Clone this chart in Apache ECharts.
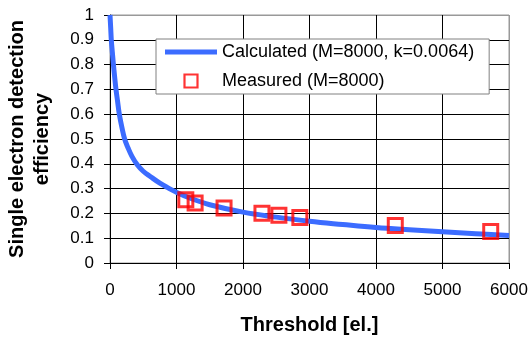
<!DOCTYPE html>
<html>
<head>
<meta charset="utf-8">
<script src="https://cdn.jsdelivr.net/npm/echarts@6/dist/echarts.min.js"></script>
<style>
  html, body { margin: 0; padding: 0; background: #fff; }
  #chart { width: 530px; height: 340px; }
</style>
</head>
<body>
<div id="chart"></div>
<script>
// calculated curve
const calcThreshold = [0, 10, 20, 35, 50, 70, 90, 115, 140, 180, 220, 270, 330, 410, 500, 610, 750, 880, 1000, 1200, 1500, 2000, 2500, 3000, 3500, 4000, 4500, 5000, 5500, 6000]
const calcEff = [1.0, 0.95, 0.898, 0.85, 0.805, 0.75, 0.70, 0.65, 0.60, 0.545, 0.50, 0.465, 0.43, 0.396, 0.37, 0.348, 0.322, 0.302, 0.285, 0.262, 0.235, 0.205, 0.185, 0.168, 0.155, 0.143, 0.134, 0.126, 0.118, 0.111]

// measured points
const measThreshold = [1140, 1280, 1715, 2285, 2540, 2855, 4290, 5725]
const measEff = [0.255, 0.242, 0.222, 0.201, 0.193, 0.183, 0.151, 0.127]

const xTicks = [0, 1000, 2000, 3000, 4000, 5000, 6000]
const yTicks = [0, 0.1, 0.2, 0.3, 0.4, 0.5, 0.6, 0.7, 0.8, 0.9, 1]

const font = 'Liberation Sans, Arial, sans-serif'

const chart = echarts.init(document.getElementById('chart'), null, { renderer: 'canvas' })

chart.setOption({
  animation: false,
  textStyle: { fontFamily: font },
  grid: {
    left: 110, right: 21, top: 15, bottom: 77,
    containLabel: false, outerBoundsMode: 'none',
    show: true, borderColor: '#999', borderWidth: 1,
  },
  legend: {
    orient: 'vertical',
    left: 156,
    top: 39,
    padding: [4, 15, 4, 9],
    itemGap: 11,
    itemWidth: 52,
    itemHeight: 13,
    backgroundColor: '#fff',
    borderColor: '#808080',
    borderWidth: 1,
    borderRadius: 0,
    textStyle: { fontFamily: font, fontSize: 18, color: '#000' },
    data: [
      { name: 'Calculated (M=8000, k=0.0064)', icon: 'path://M0,0L52,0L52,5L0,5Z' },
      {
        name: 'Measured (M=8000)',
        icon: 'path://M0,0L10,0L10,10L0,10Z',
        itemStyle: { color: 'rgba(255,255,255,0)', borderColor: '#ff0000', borderWidth: 2.2 },
      },
    ],
  },
  xAxis: {
    type: 'value',
    min: xTicks[0],
    max: xTicks[xTicks.length - 1],
    interval: 1000,
    name: 'Threshold [el.]',
    nameLocation: 'middle',
    nameGap: 52,
    nameTextStyle: { fontFamily: font, fontSize: 20, fontWeight: 'bold', color: '#000' },
    axisLine: { lineStyle: { color: '#000', width: 1 } },
    axisTick: { show: true, length: 6, lineStyle: { color: '#000' } },
    axisLabel: { fontSize: 17, color: '#000', margin: 19, formatter: v => String(v) },
    splitLine: { show: true, lineStyle: { color: ['#000', '#000', '#000', '#000', '#000', '#000', '#999'], width: 1 } },
  },
  yAxis: {
    type: 'value',
    min: yTicks[0],
    max: yTicks[yTicks.length - 1],
    interval: 0.1,
    name: 'Single electron detection\nefficiency',
    nameLocation: 'middle',
    nameGap: 55,
    nameTextStyle: { fontFamily: font, fontSize: 20, fontWeight: 'bold', color: '#000', lineHeight: 25 },
    axisLine: { lineStyle: { color: '#000', width: 1 } },
    axisTick: { show: true, length: 6, lineStyle: { color: '#000' } },
    axisLabel: { fontSize: 17, color: '#000', margin: 16, formatter: v => String(+v.toFixed(1)) },
    splitLine: { show: true, lineStyle: { color: ['#000', '#000', '#000', '#000', '#000', '#000', '#000', '#000', '#000', '#000', '#999'], width: 1 } },
  },
  series: [
    {
      name: 'Calculated (M=8000, k=0.0064)',
      type: 'line',
      data: calcThreshold.map((t, i) => [t, calcEff[i]]),
      symbol: 'none',
      smooth: 0.4,
      lineStyle: { color: '#3c6cff', width: 5, join: 'round' },
      itemStyle: { color: '#3c6cff' },
      z: 2,
    },
    {
      name: 'Measured (M=8000)',
      type: 'scatter',
      data: measThreshold.map((t, i) => [t, measEff[i]]),
      symbol: 'rect',
      symbolSize: 14,
      itemStyle: { color: 'rgba(255,255,255,0)', borderColor: '#ff0000', borderWidth: 3 },
      z: 3,
    },
  ],
})
</script>
</body>
</html>
